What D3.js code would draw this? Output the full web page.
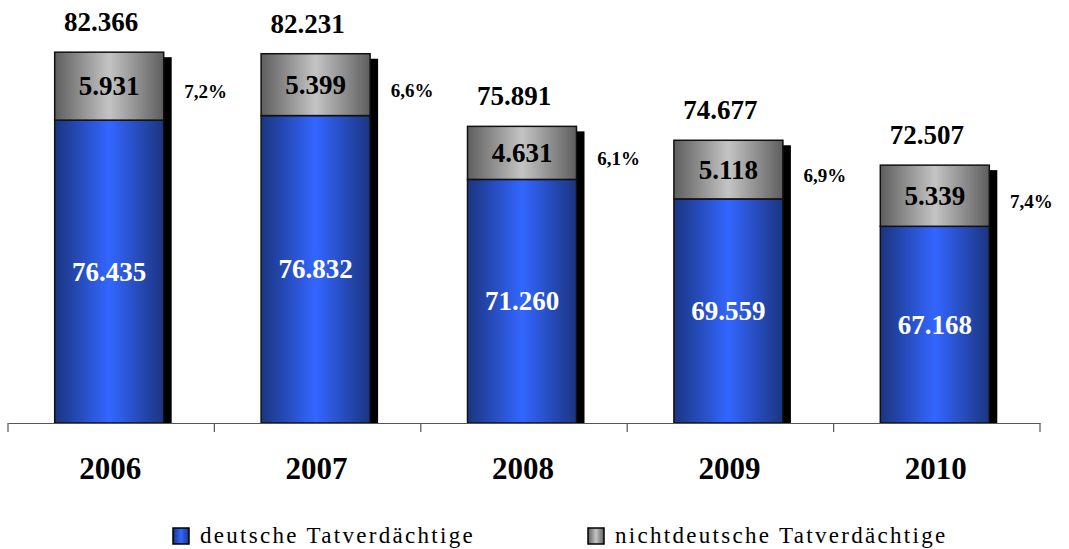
<!DOCTYPE html>
<meta charset="utf-8">
<style>
body { margin: 0; background: #fff; }
</style>
<svg width="1069" height="549"></svg>
<script src="https://cdn.jsdelivr.net/npm/d3@7/dist/d3.min.js"></script>
<script>

var years = ["2006", "2007", "2008", "2009", "2010"];
var deutsche = [76435, 76832, 71260, 69559, 67168];
var nichtdeutsche = [5931, 5399, 4631, 5118, 5339];
var anteil = ["7,2%", "6,6%", "6,1%", "6,9%", "7,4%"];
var seriesNames = ["deutsche Tatverdächtige", "nichtdeutsche Tatverdächtige"];

var svg = d3.select("svg");
var serif = "'Liberation Serif', 'Times New Roman', serif";
var fmt = d3.formatLocale({decimal: ",", thousands: ".", grouping: [3], currency: ["", ""]}).format(",d");

var defs = svg.append("defs");
function grad(id, edge, mid) {
  var g = defs.append("linearGradient").attr("id", id)
      .attr("x1", "0%").attr("x2", "100%").attr("y1", "0%").attr("y2", "0%");
  g.append("stop").attr("offset", "0%").attr("stop-color", edge);
  g.append("stop").attr("offset", "50%").attr("stop-color", mid);
  g.append("stop").attr("offset", "100%").attr("stop-color", edge);
}
grad("blau", "#1b3580", "#3366ff");
grad("grau", "#5e5e5e", "#c4c4c4");

var x = d3.scaleBand().domain(years).range([8, 1040]).paddingInner(0).paddingOuter(0);
var y = d3.scaleLinear().domain([50000, 85000]).range([423, 22]);
var bw = 109;

var data = years.map(function(d, i) {
  return {year: d, de: deutsche[i], nd: nichtdeutsche[i], total: deutsche[i] + nichtdeutsche[i], pct: anteil[i]};
});

var g = svg.append("g").selectAll("g").data(data).enter().append("g")
    .attr("transform", function(d) { return "translate(" + (x(d.year) + x.bandwidth() / 2 - bw / 2 - 2) + ",0)"; });

// schatten
g.append("rect")
    .attr("x", 8).attr("y", function(d) { return y(d.total) + 5; })
    .attr("width", bw).attr("height", function(d) { return y(50000) - y(d.total) - 5; })
    .attr("fill", "#000");

g.append("rect")
    .attr("x", 0).attr("y", function(d) { return y(d.de); })
    .attr("width", bw).attr("height", function(d) { return y(50000) - y(d.de); })
    .attr("fill", "url(#blau)").attr("stroke", "#111").attr("stroke-width", 1.5);

g.append("rect")
    .attr("x", 0).attr("y", function(d) { return y(d.total); })
    .attr("width", bw).attr("height", function(d) { return y(d.de) - y(d.total); })
    .attr("fill", "url(#grau)").attr("stroke", "#111").attr("stroke-width", 1.5);

function label(sel, size, weight) {
  return sel.append("text")
      .attr("font-family", serif).attr("font-size", size).attr("font-weight", weight)
      .attr("text-anchor", "middle");
}

label(g, 27, "bold")
    .attr("x", bw / 2).attr("y", function(d) { return (y(d.de) + y(50000)) / 2 + 9; })
    .attr("fill", "#fff")
    .text(function(d) { return fmt(d.de); });

label(g, 27, "bold")
    .attr("x", bw / 2).attr("y", function(d) { return (y(d.de) + y(d.total)) / 2 + 9; })
    .attr("fill", "#000")
    .text(function(d) { return fmt(d.nd); });

label(g, 27, "bold")
    .attr("x", bw / 2 - 8).attr("y", function(d) { return y(d.total) - 21; })
    .attr("fill", "#000")
    .text(function(d) { return fmt(d.total); });

label(g, 19, "bold")
    .attr("x", bw + 42).attr("y", function(d) { return (y(d.de) + y(d.total)) / 2 + 12; })
    .attr("fill", "#000")
    .text(function(d) { return d.pct; });

// achse
var axis = svg.append("g").attr("transform", "translate(0,423)")
    .call(d3.axisBottom(x).tickSize(0).tickPadding(0).tickFormat(""));
axis.select(".domain").attr("stroke", "#555").attr("stroke-width", 1.2);
axis.selectAll(".tick").remove();
svg.append("g").selectAll("line").data([8].concat(years.map(function(d) { return x(d) + x.bandwidth(); })))
    .enter().append("line")
    .attr("x1", function(d) { return d; }).attr("x2", function(d) { return d; })
    .attr("y1", 423).attr("y2", 432).attr("stroke", "#555").attr("stroke-width", 1.2);

label(svg.append("g").selectAll("text").data(years).enter(), 31, "bold")
    .attr("x", function(d) { return x(d) + x.bandwidth() / 2 - 1; }).attr("y", 479)
    .text(function(d) { return d; });

// legende
var leg = svg.append("g").selectAll("g").data(seriesNames).enter().append("g")
    .attr("transform", function(d, i) { return "translate(" + (173 + i * 415) + ",528)"; });
leg.append("rect").attr("width", 16).attr("height", 16)
    .attr("fill", function(d, i) { return i ? "url(#grau)" : "url(#blau)"; })
    .attr("stroke", "#000").attr("stroke-width", 1.5);
leg.append("text").attr("x", 27).attr("y", 15)
    .attr("font-family", serif).attr("font-size", 23)
    .attr("letter-spacing", 2.3)
    .text(function(d) { return d; });

</script>
